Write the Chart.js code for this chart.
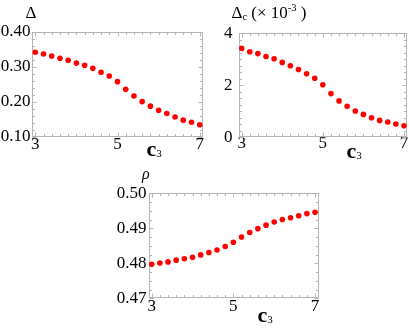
<!DOCTYPE html>
<html>
<head>
<meta charset="utf-8">
<script src="https://cdn.jsdelivr.net/npm/chart.js@4.4.1/dist/chart.umd.min.js"></script>
<style>
  html, body { margin:0; padding:0; background:#fff; }
  #wrap { position:relative; width:409px; height:329px; overflow:hidden; background:#fff; }
  canvas { position:absolute; left:0; top:0; }
  .t { position:absolute; font-family:"Liberation Serif","Times New Roman","DejaVu Serif",serif; color:#000; line-height:1; white-space:nowrap; }
  .c3 { font-size:22px; font-weight:bold; }
  .c3 span { font-size:11px; font-weight:normal; position:relative; top:1px; }
</style>
</head>
<body>
<div id="wrap">
  <canvas id="ch1" width="409" height="329"></canvas>
  <canvas id="ch2" width="409" height="329"></canvas>
  <canvas id="ch3" width="409" height="329"></canvas>
  <div class="t" style="left:25.5px;top:3.5px;font-size:17px;">Δ</div>
  <div class="t c3" style="left:146.5px;top:137.6px;">c<span>3</span></div>
  <div class="t" style="left:231.5px;top:3.8px;font-size:17px;">Δ<span style="font-size:10.5px;position:relative;top:2px;">c</span> (× 10<span style="font-size:10.5px;position:relative;top:-7px;">-3</span> )</div>
  <div class="t c3" style="left:346.5px;top:139.6px;">c<span>3</span></div>
  <div class="t" style="left:142px;top:165.5px;font-size:16px;font-style:italic;">ρ</div>
  <div class="t c3" style="left:257.5px;top:304px;">c<span>3</span></div>
</div>
<script>
// ---- data ----
const c3 = [3.0, 3.2, 3.4, 3.6, 3.8, 4.0, 4.2, 4.4, 4.6, 4.8, 5.0, 5.2, 5.4, 5.6, 5.8, 6.0, 6.2, 6.4, 6.6, 6.8, 7.0];
const delta = [0.343, 0.338, 0.332, 0.326, 0.320, 0.312, 0.306, 0.297, 0.286, 0.275, 0.259, 0.237, 0.218, 0.202, 0.189, 0.177, 0.168, 0.158, 0.149, 0.143, 0.136];
const deltaC = [3.42, 3.29, 3.22, 3.11, 3.02, 2.88, 2.75, 2.61, 2.44, 2.27, 2.02, 1.68, 1.40, 1.19, 1.01, 0.88, 0.75, 0.65, 0.59, 0.51, 0.44];
const rho = [0.4797, 0.4801, 0.4804, 0.4809, 0.4813, 0.4817, 0.4824, 0.4831, 0.4838, 0.4848, 0.4860, 0.4875, 0.4888, 0.4899, 0.4909, 0.4918, 0.4925, 0.4930, 0.4936, 0.4942, 0.4946];
const xTickLabels = [3, 5, 7];
const deltaTicks = [0.10, 0.20, 0.30, 0.40];
const deltaCTicks = [0, 2, 4];
const rhoTicks = [0.47, 0.48, 0.49, 0.50];

const FONT = { family: '"Liberation Serif", "Times New Roman", "DejaVu Serif", serif', size: 17 };
const FRAME = '#b4b4b4';

const framePlugin = {
  id: 'frame',
  beforeDatasetsDraw(chart, args, o) {
    const { ctx, chartArea: a, scales: { x, y } } = chart;
    ctx.save();
    ctx.strokeStyle = FRAME;
    ctx.lineWidth = 1;
    const L = Math.round(a.left) + 0.5, R = Math.round(a.right) - 0.5;
    const T = Math.round(a.top) + 0.5, B = Math.round(a.bottom) - 0.5;
    ctx.strokeRect(L, T, R - L, B - T);
    const line = (x1, y1, x2, y2) => { ctx.beginPath(); ctx.moveTo(x1, y1); ctx.lineTo(x2, y2); ctx.stroke(); };
    const eps = 1e-9;
    for (let v = o.xFrom; v <= o.xTo + eps; v += o.xStep) {
      const major = o.xMajor.some(m => Math.abs(m - v) < 1e-6);
      const len = major ? 4 : 2.5;
      const px = Math.round(x.getPixelForValue(v)) + 0.5;
      line(px, B, px, B - len);
      line(px, T, px, T + len);
    }
    for (let v = o.yFrom; v <= o.yTo + eps; v += o.yStep) {
      const major = o.yMajor.some(m => Math.abs(m - v) < o.yStep / 10);
      const len = major ? 4 : 2.5;
      const py = Math.round(y.getPixelForValue(v)) + 0.5;
      line(L, py, L + len, py);
      line(R, py, R - len, py);
    }
    ctx.restore();
  }
};

function makeChart(id, vals, cfg) {
  const pts = c3.map((c, i) => ({ x: c, y: vals[i] }));
  return new Chart(document.getElementById(id), {
    type: 'scatter',
    data: { datasets: [{ data: pts, backgroundColor: '#f00', borderWidth: 0, pointRadius: 2.8, pointHoverRadius: 2.8 }] },
    options: {
      responsive: false,
      devicePixelRatio: 1,
      animation: false,
      events: [],
      layout: { autoPadding: false, padding: cfg.padding },
      plugins: { legend: { display: false }, tooltip: { enabled: false }, frame: cfg.frame },
      scales: {
        x: {
          type: 'linear', min: cfg.xMin, max: cfg.xMax,
          border: { display: false },
          grid: { display: false, drawTicks: false },
          afterFit: s => { s.height = 20; },
          afterBuildTicks: s => { s.ticks = xTickLabels.map(v => ({ value: v })); },
          ticks: { autoSkip: false, maxRotation: 0, color: '#000', font: FONT, padding: cfg.xPad, callback: v => String(v) }
        },
        y: {
          type: 'linear', min: cfg.yMin, max: cfg.yMax,
          border: { display: false },
          grid: { display: false, drawTicks: false },
          afterFit: s => { s.width = cfg.yWidth; },
          afterBuildTicks: s => { s.ticks = cfg.yTicks.map(v => ({ value: v })); },
          ticks: { autoSkip: false, color: '#000', font: FONT, padding: cfg.yPad, labelOffset: cfg.yOff || 0, callback: cfg.yFmt }
        }
      }
    },
    plugins: [framePlugin]
  });
}

makeChart('ch1', delta, {
  padding: { left: 0, right: 409 - 203, top: 32.3, bottom: 329 - 137.3 - 20 },
  yWidth: 32, yPad: 1.5, xPad: -2.5, yOff: -1,
  xMin: 2.92, xMax: 7.08, yMin: 0.10, yMax: 0.40,
  yTicks: deltaTicks, yFmt: v => v.toFixed(2),
  frame: { xFrom: 3, xTo: 7, xStep: 0.2, xMajor: xTickLabels, yFrom: 0.10, yTo: 0.40, yStep: 0.02, yMajor: deltaTicks }
});
makeChart('ch2', deltaC, {
  padding: { left: 209, right: 409 - 406.7, top: 33.3, bottom: 329 - 137.3 - 20 },
  yWidth: 30, yPad: 6.5, xPad: -3.5,
  xMin: 2.935, xMax: 7.067, yMin: 0, yMax: 4,
  yTicks: deltaCTicks, yFmt: v => String(v),
  frame: { xFrom: 3, xTo: 7, xStep: 0.2, xMajor: xTickLabels, yFrom: 0, yTo: 4, yStep: 0.25, yMajor: deltaCTicks }
});
makeChart('ch3', rho, {
  padding: { left: 109, right: 409 - 318.7, top: 193.3, bottom: 329 - 298.3 - 20 },
  yWidth: 40, yPad: 2.5, xPad: -1.5,
  xMin: 2.934, xMax: 7.09, yMin: 0.47, yMax: 0.50,
  yTicks: rhoTicks, yFmt: v => v.toFixed(2),
  frame: { xFrom: 3, xTo: 7, xStep: 0.2, xMajor: xTickLabels, yFrom: 0.47, yTo: 0.50, yStep: 0.0025, yMajor: rhoTicks }
});
</script>
</body>
</html>
